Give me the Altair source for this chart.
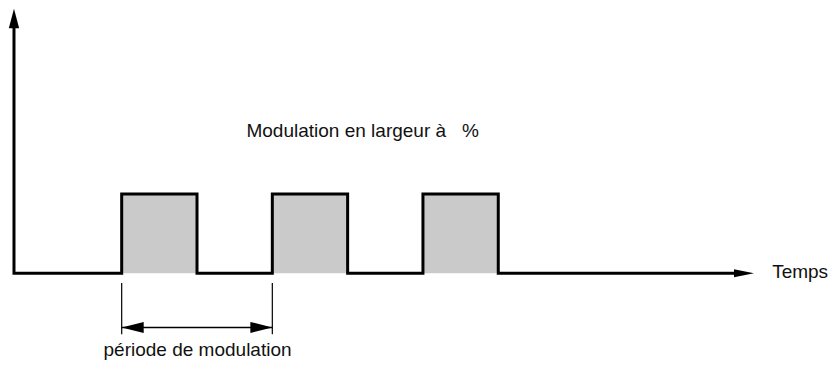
import altair as alt
import pandas as pd

# ---- data (time units, signal level units) ----
pulse_starts = [7.15, 17.15, 27.15]
pulse_width = 5.0
level_low = 0.0
level_high = 1.0
time_axis_end = 47.8
level_axis_top = 3.15
period_start = 7.15
period_end = 17.15

title_text = "Modulation en largeur à\u00a0\u00a0\u00a0%"
time_label = "Temps"
period_label = "période de modulation"

# ---- layout ----
W, H = 820, 352
PX_X = 15.1   # px per time unit
PX_Y = 80.5   # px per level unit
XD = [-5 / PX_X, -5 / PX_X + W / PX_X]
YD = [265 / PX_Y - H / PX_Y, 265 / PX_Y]

xs = alt.Scale(domain=XD, nice=False, zero=False)
ys = alt.Scale(domain=YD, nice=False, zero=False)

# waveform path incl. y axis
pts = [(0, level_axis_top), (0, level_low)]
for s in pulse_starts:
    pts += [(s, level_low), (s, level_high), (s + pulse_width, level_high), (s + pulse_width, level_low)]
pts.append((time_axis_end, level_low))
wave = pd.DataFrame({"t": [p[0] for p in pts], "v": [p[1] for p in pts], "i": range(len(pts))})

rects = pd.DataFrame({"t": pulse_starts, "t2": [s + pulse_width for s in pulse_starts],
                      "v": [level_low] * 3, "v2": [level_high] * 3})

X = lambda f: alt.X(f, type="quantitative", scale=xs, axis=None)
Y = lambda f: alt.Y(f, type="quantitative", scale=ys, axis=None)

rect_layer = alt.Chart(rects).mark_rect(color="#cacaca").encode(
    x=X("t"), x2="t2", y=Y("v"), y2="v2")

line_layer = alt.Chart(wave).mark_line(color="black", strokeWidth=3, strokeJoin="miter",
                                       strokeCap="butt").encode(
    x=X("t"), y=Y("v"), order="i:Q")

# arrowheads
up_head = pd.DataFrame({"t": [0], "v": [level_axis_top + 0.06]})
right_head = pd.DataFrame({"t": [time_axis_end + 10 / PX_X], "v": [level_low]})
up_layer = alt.Chart(up_head).mark_point(shape="M0,-1L0.53,1L-0.53,1Z", size=380, filled=True,
                                         color="black", opacity=1).encode(x=X("t"), y=Y("v"))
right_layer = alt.Chart(right_head).mark_point(shape="M1,0L-1,0.4L-1,-0.4Z", size=400, filled=True,
                                               color="black", opacity=1).encode(x=X("t"), y=Y("v"))

# period dimension
tick_top = -10 / PX_Y
tick_bot = -62 / PX_Y
dim_y = -55 / PX_Y
ticks = pd.DataFrame({"t": [period_start, period_end], "v": [tick_top] * 2, "v2": [tick_bot] * 2})
tick_layer = alt.Chart(ticks).mark_rule(color="black", strokeWidth=1.2).encode(
    x=X("t"), y=Y("v"), y2="v2")
dim = pd.DataFrame({"t": [period_start], "t2": [period_end], "v": [dim_y]})
dim_layer = alt.Chart(dim).mark_rule(color="black", strokeWidth=1.5).encode(
    x=X("t"), x2="t2", y=Y("v"))
heads = pd.DataFrame({"t": [period_start + 11 / PX_X, period_end - 11 / PX_X], "v": [dim_y] * 2,
                      "dir": ["l", "r"]})
lh = alt.Chart(heads[heads.dir == "l"]).mark_point(shape="M-1,0L1,0.5L1,-0.5Z", size=484, filled=True,
                                                   color="black", opacity=1).encode(x=X("t"), y=Y("v"))
rh = alt.Chart(heads[heads.dir == "r"]).mark_point(shape="M1,0L-1,0.5L-1,-0.5Z", size=484, filled=True,
                                                   color="black", opacity=1).encode(x=X("t"), y=Y("v"))

font = "Liberation Sans"
texts = pd.DataFrame({
    "t": [(362.5 - 13) / PX_X, (773 - 13) / PX_X, (197 - 13) / PX_X],
    "v": [(273 - 135) / PX_Y, (273 - 278) / PX_Y, (273 - 357) / PX_Y],
    "label": [title_text, time_label, period_label],
    "align": ["center", "left", "center"],
})
text_layers = []
for _, r in texts.iterrows():
    text_layers.append(alt.Chart(pd.DataFrame([r])).mark_text(
        font=font, fontSize=19, color="#111", align=r["align"], baseline="alphabetic").encode(
        x=X("t"), y=Y("v"), text="label:N"))

chart = alt.layer(rect_layer, line_layer, up_layer, right_layer, tick_layer, dim_layer, lh, rh,
                  *text_layers).properties(
    width=W, height=H, padding=0,
    autosize=alt.AutoSizeParams(type="fit", contains="padding"),
).configure_view(stroke=None)

chart.save("out.html", embed_options={"renderer": "svg", "actions": False})
